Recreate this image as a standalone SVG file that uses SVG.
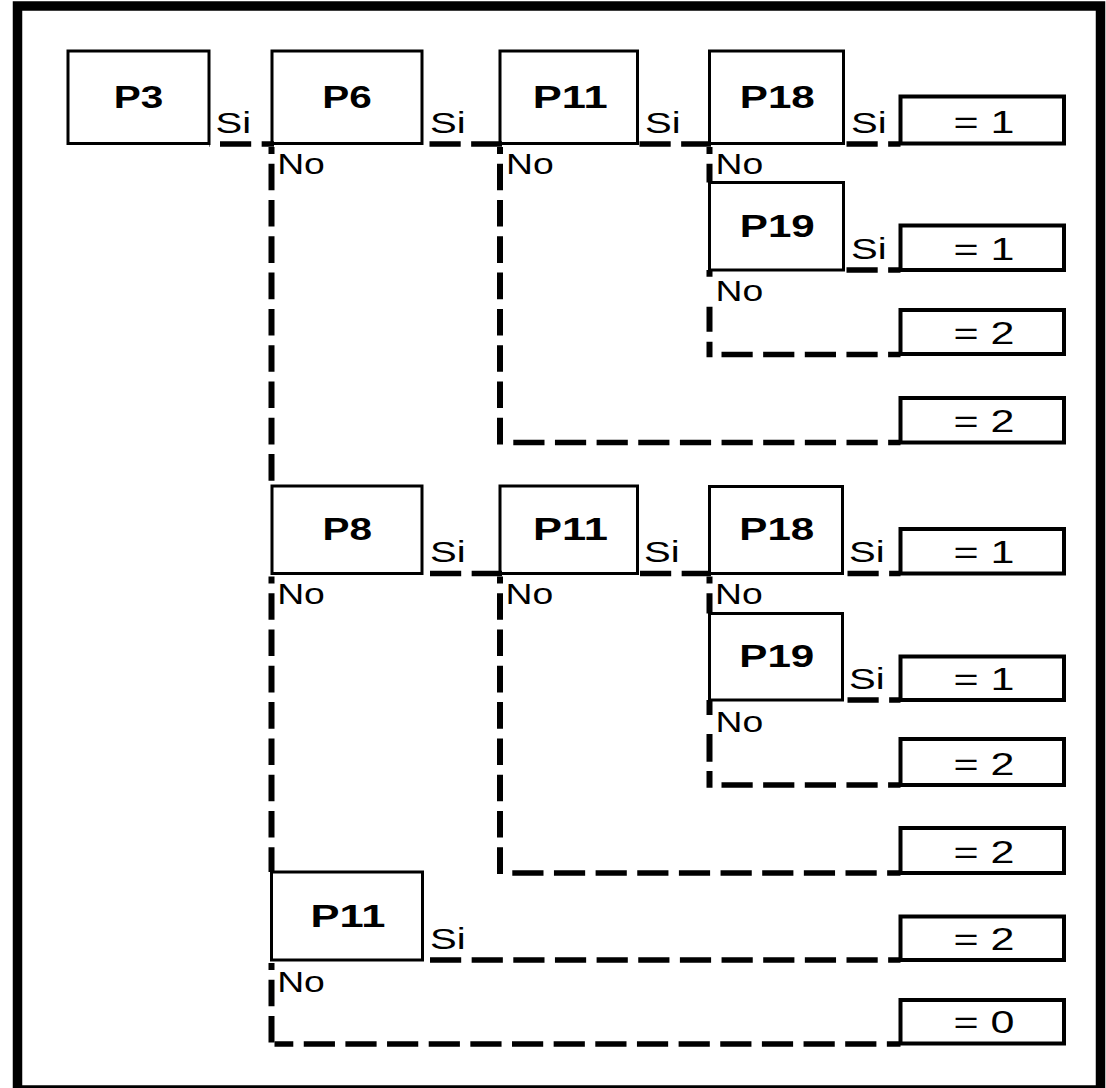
<svg xmlns="http://www.w3.org/2000/svg" width="1106" height="1088" viewBox="0 0 1106 1088">
<style>
.frame{fill:none;stroke:#000;stroke-width:9.5}
.box{fill:#fff;stroke:#000;stroke-width:3}
.res{fill:#fff;stroke:#000;stroke-width:4}
.h{fill:none;stroke:#000;stroke-width:5.7;stroke-dasharray:31.2 10.45}
.v{fill:none;stroke:#000;stroke-width:6;stroke-dasharray:26.6 9.7;stroke-dashoffset:19.6}
.p{font-family:"Liberation Sans",Arial,sans-serif;font-weight:bold;font-size:32px;fill:#000}
.t{font-family:"Liberation Sans",Arial,sans-serif;font-size:30px;fill:#000}
.r{font-family:"Liberation Sans",Arial,sans-serif;font-size:31px;fill:#000}
</style>
<rect class="frame" x="17.5" y="6" width="1083" height="1084"/>

<g id="nodes">
<g id="p3"><rect class="box" x="68" y="51" width="141" height="92.5"/><text class="p" x="113.7" y="108" textLength="49.5" lengthAdjust="spacingAndGlyphs">P3</text></g>
<g id="p6"><rect class="box" x="272" y="51" width="150" height="92.5"/><text class="p" x="322.2" y="108" textLength="49.5" lengthAdjust="spacingAndGlyphs">P6</text></g>
<g id="p11a"><rect class="box" x="500" y="51" width="137.5" height="92.5"/><text class="p" x="532.7" y="108" textLength="75" lengthAdjust="spacingAndGlyphs">P11</text></g>
<g id="p18a"><rect class="box" x="709.5" y="51" width="134" height="92.5"/><text class="p" x="739.8" y="108" textLength="75" lengthAdjust="spacingAndGlyphs">P18</text></g>
<g id="p19a"><rect class="box" x="709.5" y="182.5" width="134" height="87.5"/><text class="p" x="739.8" y="236.7" textLength="75" lengthAdjust="spacingAndGlyphs">P19</text></g>
<g id="p8"><rect class="box" x="272" y="486" width="150" height="87.5"/><text class="p" x="322.5" y="539.5" textLength="49.5" lengthAdjust="spacingAndGlyphs">P8</text></g>
<g id="p11b"><rect class="box" x="500" y="486" width="137.5" height="87.5"/><text class="p" x="533" y="539.5" textLength="75" lengthAdjust="spacingAndGlyphs">P11</text></g>
<g id="p18b"><rect class="box" x="709.5" y="486.5" width="133" height="87"/><text class="p" x="739.3" y="539.5" textLength="75" lengthAdjust="spacingAndGlyphs">P18</text></g>
<g id="p19b"><rect class="box" x="709.5" y="613.5" width="133" height="86.5"/><text class="p" x="739.3" y="666.5" textLength="75" lengthAdjust="spacingAndGlyphs">P19</text></g>
<g id="p11c"><rect class="box" x="271.5" y="872" width="151" height="88"/><text class="p" x="310.4" y="926.5" textLength="75" lengthAdjust="spacingAndGlyphs">P11</text></g>

<g id="r1"><rect class="res" x="900.5" y="96.5" width="163.5" height="47"/><text class="r" x="953.5" y="133" textLength="61" lengthAdjust="spacingAndGlyphs">= 1</text></g>
<g id="r2"><rect class="res" x="900.5" y="225.5" width="163.5" height="44.5"/><text class="r" x="953.5" y="259.5" textLength="61" lengthAdjust="spacingAndGlyphs">= 1</text></g>
<g id="r3"><rect class="res" x="900.5" y="310" width="163.5" height="44"/><text class="r" x="953.5" y="343.5" textLength="61" lengthAdjust="spacingAndGlyphs">= 2</text></g>
<g id="r4"><rect class="res" x="900.5" y="398" width="163.5" height="44.5"/><text class="r" x="953.5" y="432" textLength="61" lengthAdjust="spacingAndGlyphs">= 2</text></g>
<g id="r5"><rect class="res" x="900.5" y="529" width="163.5" height="44.5"/><text class="r" x="953.5" y="563" textLength="61" lengthAdjust="spacingAndGlyphs">= 1</text></g>
<g id="r6"><rect class="res" x="900.5" y="656.5" width="163.5" height="43.5"/><text class="r" x="953.5" y="689.5" textLength="61" lengthAdjust="spacingAndGlyphs">= 1</text></g>
<g id="r7"><rect class="res" x="900.5" y="739" width="163.5" height="46"/><text class="r" x="953.5" y="774.5" textLength="61" lengthAdjust="spacingAndGlyphs">= 2</text></g>
<g id="r8"><rect class="res" x="900.5" y="828" width="163.5" height="45"/><text class="r" x="953.5" y="862.5" textLength="61" lengthAdjust="spacingAndGlyphs">= 2</text></g>
<g id="r9"><rect class="res" x="900.5" y="916.5" width="163.5" height="43.5"/><text class="r" x="953.5" y="949.5" textLength="61" lengthAdjust="spacingAndGlyphs">= 2</text></g>
<g id="r10"><rect class="res" x="900.5" y="1000" width="163.5" height="43.5"/><text class="r" x="953.5" y="1033" textLength="61" lengthAdjust="spacingAndGlyphs">= 0</text></g>
</g>

<g id="connectors">
<!-- horizontal "Si" / result lines -->
<line class="h" x1="209" y1="144" x2="274" y2="144" stroke-dashoffset="30.65"/>
<line class="h" x1="422" y1="144" x2="502" y2="144" stroke-dashoffset="34.15"/>
<line class="h" x1="637.5" y1="144" x2="711" y2="144" stroke-dashoffset="39.65"/>
<line class="h" x1="843.5" y1="144" x2="900.5" y2="144" stroke-dashoffset="38.65"/>
<line class="h" x1="843.5" y1="270" x2="900.5" y2="270" stroke-dashoffset="38.65"/>
<line class="h" x1="712.5" y1="354.5" x2="900.5" y2="354.5" stroke-dashoffset="32.65"/>
<line class="h" x1="503" y1="442.5" x2="900.5" y2="442.5" stroke-dashoffset="31.35"/>
<line class="h" x1="422" y1="573.5" x2="502" y2="573.5" stroke-dashoffset="33.65"/>
<line class="h" x1="637.5" y1="573.5" x2="711" y2="573.5" stroke-dashoffset="39.15"/>
<line class="h" x1="842.5" y1="573.5" x2="900.5" y2="573.5" stroke-dashoffset="36.65"/>
<line class="h" x1="842.5" y1="700" x2="900.5" y2="700" stroke-dashoffset="36.65"/>
<line class="h" x1="712.5" y1="785" x2="900.5" y2="785" stroke-dashoffset="32.65"/>
<line class="h" x1="503" y1="873" x2="900.5" y2="873" stroke-dashoffset="32.35"/>
<line class="h" x1="422.5" y1="960" x2="900.5" y2="960" stroke-dashoffset="34.15"/>
<line class="h" x1="274.5" y1="1044" x2="900.5" y2="1044" stroke-dashoffset="12.4"/>
<!-- vertical "No" lines -->
<line class="v" x1="271.5" y1="147" x2="271.5" y2="486"/>
<line class="v" x1="500" y1="147" x2="500" y2="445.35"/>
<line class="v" x1="709.5" y1="147" x2="709.5" y2="182.5"/>
<line class="v" x1="709.5" y1="270" x2="709.5" y2="357.35" style="stroke-dasharray:6.7 30 25 10 30;stroke-dashoffset:0"/>
<line class="v" x1="271.5" y1="576.5" x2="271.5" y2="872"/>
<line class="v" x1="500" y1="576.5" x2="500" y2="875.85"/>
<line class="v" x1="709.5" y1="576.5" x2="709.5" y2="613.5"/>
<line class="v" x1="709.5" y1="700" x2="709.5" y2="787.85" style="stroke-dasharray:15 19 27.7 9.3 30;stroke-dashoffset:0"/>
<line class="v" x1="271.5" y1="963" x2="271.5" y2="1046.85"/>
</g>

<g id="labels">
<text class="t" x="215.5" y="132.5" textLength="35.6" lengthAdjust="spacingAndGlyphs">Si</text>
<text class="t" x="430" y="132.5" textLength="35.6" lengthAdjust="spacingAndGlyphs">Si</text>
<text class="t" x="645" y="132.5" textLength="35.6" lengthAdjust="spacingAndGlyphs">Si</text>
<text class="t" x="851" y="132.5" textLength="35.6" lengthAdjust="spacingAndGlyphs">Si</text>
<text class="t" x="851" y="258.5" textLength="35.6" lengthAdjust="spacingAndGlyphs">Si</text>
<text class="t" x="430" y="562" textLength="35.6" lengthAdjust="spacingAndGlyphs">Si</text>
<text class="t" x="644" y="562" textLength="35.6" lengthAdjust="spacingAndGlyphs">Si</text>
<text class="t" x="849" y="562" textLength="35.6" lengthAdjust="spacingAndGlyphs">Si</text>
<text class="t" x="849" y="689" textLength="35.6" lengthAdjust="spacingAndGlyphs">Si</text>
<text class="t" x="430" y="948.5" textLength="35.6" lengthAdjust="spacingAndGlyphs">Si</text>
<text class="t" x="277.2" y="173.5" textLength="47.7" lengthAdjust="spacingAndGlyphs">No</text>
<text class="t" x="506" y="174" textLength="47.7" lengthAdjust="spacingAndGlyphs">No</text>
<text class="t" x="715.5" y="173.5" textLength="47.7" lengthAdjust="spacingAndGlyphs">No</text>
<text class="t" x="715.5" y="300.5" textLength="47.7" lengthAdjust="spacingAndGlyphs">No</text>
<text class="t" x="277.2" y="604" textLength="47.7" lengthAdjust="spacingAndGlyphs">No</text>
<text class="t" x="505.5" y="604" textLength="47.7" lengthAdjust="spacingAndGlyphs">No</text>
<text class="t" x="715" y="603.5" textLength="47.7" lengthAdjust="spacingAndGlyphs">No</text>
<text class="t" x="715.5" y="731.5" textLength="47.7" lengthAdjust="spacingAndGlyphs">No</text>
<text class="t" x="277.2" y="991.5" textLength="47.7" lengthAdjust="spacingAndGlyphs">No</text>
</g>
</svg>
